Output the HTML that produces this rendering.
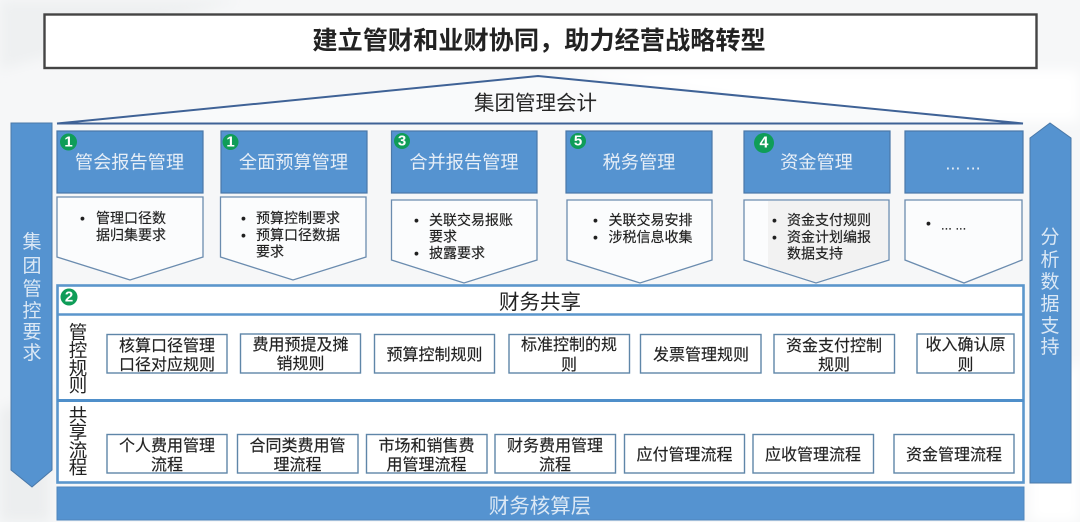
<!DOCTYPE html>
<html lang="zh-CN">
<head>
<meta charset="utf-8">
<title>建立管财和业财协同</title>
<style>
html,body{margin:0;padding:0;width:1080px;height:522px;overflow:hidden;background:#f6f7f8}
svg{display:block;font-family:"Liberation Sans","Noto Sans CJK SC",sans-serif;filter:blur(.35px)}
text{dominant-baseline:central;transform:translateY(1.5px)}
.b{fill:#5593d0;stroke:#4a78a8;stroke-width:1.2}
.c{fill:#fbfcfd;stroke:#6b8caf;stroke-width:1.3}
.r{fill:#fff;stroke:#5f86a8;stroke-width:1.4}
.h{fill:#e6eef7;font-size:18.2px;text-anchor:middle;transform:translateY(.5px)}
.l{fill:#1f1f1f;font-size:14px;stroke:#1f1f1f;stroke-width:.15;transform:translateY(.8px)}
.t{fill:#222;font-size:16px;text-anchor:middle;stroke:#222;stroke-width:.15}
.v{fill:#dbe8f5;font-size:19px;text-anchor:middle}
.k{fill:#222;font-size:18.500px;text-anchor:middle}
.n{fill:#fff;font-size:15px;font-weight:bold;text-anchor:middle}
.g{fill:#0f9d58}
</style>
</head>
<body>
<svg width="1080" height="522" viewBox="0 0 1080 522" xmlns="http://www.w3.org/2000/svg">
<defs><filter id="s" x="-20%" y="-20%" width="140%" height="140%"><feGaussianBlur stdDeviation="6"/></filter></defs>
<rect width="1080" height="522" fill="#f6f7f8"/>
<g filter="url(#s)">
<polygon points="0,0 240,0 0,70" fill="#eef0f1"/>
<polygon points="0,410 50,390 50,522 0,522" fill="#eceeef"/>
<polygon points="540,70 1080,70 1080,122 880,122" fill="#ffffff"/>
<polygon points="1030,400 1080,360 1080,522 1030,522" fill="#ffffff"/>
</g>

<!-- title -->
<rect x="44.500" y="14.500" width="992" height="53.500" fill="#fff" stroke="#444" stroke-width="2.400"/>
<text x="539" y="39.500" font-size="25.200" font-weight="bold" fill="#222" text-anchor="middle">建立管财和业财协同，助力经营战略转型</text>

<!-- roof -->
<polygon points="57,123.500 538,76 1023,123.500" fill="#f9fafb" stroke="#3f6296" stroke-width="2"/>
<text x="535.500" y="102" font-size="20.500" fill="#262626" text-anchor="middle">集团管理会计</text>

<!-- side arrows -->
<polygon points="11,123 52,123 52,470 32,487 11,470" fill="#5593d0" stroke="#4a78a8"/>
<text class="v" x="32" y="241">集</text>
<text class="v" x="32" y="265">团</text>
<text class="v" x="32" y="288">管</text>
<text class="v" x="32" y="310">控</text>
<text class="v" x="32" y="331">要</text>
<text class="v" x="32" y="352">求</text>
<polygon points="1030,138 1050,123 1071,138 1071,483 1030,483" fill="#5593d0" stroke="#4a78a8"/>
<text class="v" x="1050" y="236">分</text>
<text class="v" x="1050" y="259">析</text>
<text class="v" x="1050" y="281">数</text>
<text class="v" x="1050" y="303">据</text>
<text class="v" x="1050" y="325">支</text>
<text class="v" x="1050" y="346">持</text>

<!-- header boxes -->
<rect class="b" x="57" y="131" width="146" height="62"/>
<rect class="b" x="221" y="131" width="146" height="62"/>
<rect class="b" x="391.500" y="131" width="145.500" height="62"/>
<rect class="b" x="566" y="131" width="146" height="62"/>
<rect class="b" x="744" y="131" width="146" height="62"/>
<rect class="b" x="905" y="131" width="118" height="62"/>
<text class="h" x="129.500" y="162">管会报告管理</text>
<text class="h" x="293.500" y="162">全面预算管理</text>
<text class="h" x="464" y="162">合并报告管理</text>
<text class="h" x="639" y="162">税务管理</text>
<text class="h" x="816.500" y="162">资金管理</text>
<text class="h" x="963" y="163" style="font-family:'Liberation Sans',sans-serif">... ...</text>

<!-- badges -->
<circle class="g" cx="68.500" cy="142" r="8.500"/><text class="n" x="68.500" y="140.500">1</text>
<circle class="g" cx="230.500" cy="142" r="8"/><text class="n" x="230.500" y="140.500">1</text>
<circle class="g" cx="402" cy="141" r="8"/><text class="n" x="402" y="139.500">3</text>
<circle class="g" cx="578" cy="141" r="8"/><text class="n" x="578" y="139.500">5</text>
<circle class="g" cx="764" cy="143" r="10"/><text class="n" x="764" y="141.500" style="font-size:16px">4</text>

<!-- chevrons -->
<polygon class="c" points="57,197 203,197 203,257 130,280 57,257"/>
<polygon class="c" points="220.500,197 366,197 366,257 293,280 220.500,257"/>
<polygon class="c" points="391.500,200 537,200 537,260 464,283 391.500,260"/>
<polygon class="c" points="567,200 712,200 712,260 640,283 567,260"/>
<polygon class="c" points="744,200 889,200 889,260 816,283 744,260"/>
<polygon class="c" points="905,200 1022,200 1022,260 964,283 905,260"/>
<polygon points="768,201 888,201 888,259 816,282 768,267" fill="#f2f2f2"/>

<text class="l" x="80" y="217">•</text>
<text class="l" x="96" y="217">管理口径数</text>
<text class="l" x="96" y="234">据归集要求</text>

<text class="l" x="241" y="217">•</text>
<text class="l" x="256" y="217">预算控制要求</text>
<text class="l" x="241" y="234">•</text>
<text class="l" x="256" y="234">预算口径数据</text>
<text class="l" x="256" y="250.500">要求</text>

<text class="l" x="414" y="219">•</text>
<text class="l" x="429" y="219">关联交易报账</text>
<text class="l" x="429" y="235.500">要求</text>
<text class="l" x="414" y="252">•</text>
<text class="l" x="429" y="252">披露要求</text>

<text class="l" x="593" y="219">•</text>
<text class="l" x="608.500" y="219">关联交易安排</text>
<text class="l" x="593" y="236">•</text>
<text class="l" x="608.500" y="236">涉税信息收集</text>

<text class="l" x="772" y="219">•</text>
<text class="l" x="787" y="219">资金支付规则</text>
<text class="l" x="772" y="236">•</text>
<text class="l" x="787" y="236">资金计划编报</text>
<text class="l" x="787" y="252.500">数据支持</text>

<text class="l" x="926" y="222">•</text>
<text class="l" x="941" y="224" style="font-size:13px;font-family:'Liberation Sans',sans-serif">... ...</text>

<!-- shared block -->
<rect x="57.500" y="285.500" width="966" height="197" fill="#fff" stroke="#5b96cc" stroke-width="2.600"/>
<line x1="57" y1="314.500" x2="1024" y2="314.500" stroke="#5b96cc" stroke-width="2.400"/>
<line x1="57" y1="400.500" x2="1024" y2="400.500" stroke="#4f8fca" stroke-width="3"/>
<circle class="g" cx="69" cy="297" r="8.500"/><text class="n" x="69" y="295.500">2</text>
<text x="540" y="301" font-size="20.500" fill="#222" text-anchor="middle">财务共享</text>

<text class="k" x="78" y="331">管</text>
<text class="k" x="78" y="349">控</text>
<text class="k" x="78" y="367">规</text>
<text class="k" x="78" y="384">则</text>
<text class="k" x="78" y="414">共</text>
<text class="k" x="78" y="431">享</text>
<text class="k" x="78" y="449">流</text>
<text class="k" x="78" y="466">程</text>

<!-- rule boxes -->
<rect class="r" x="107" y="334.500" width="120" height="38.500"/>
<rect class="r" x="240.500" y="334" width="120" height="39"/>
<rect class="r" x="374.500" y="334.500" width="120" height="38.500"/>
<rect class="r" x="509" y="334.500" width="120.500" height="38.500"/>
<rect class="r" x="640.500" y="334.500" width="120.500" height="38.500"/>
<rect class="r" x="774" y="334.500" width="120.500" height="38.500"/>
<rect class="r" x="917" y="334" width="97" height="39"/>
<text class="t" x="167" y="345">核算口径管理</text>
<text class="t" x="167" y="364">口径对应规则</text>
<text class="t" x="300.500" y="344">费用预提及摊</text>
<text class="t" x="300.500" y="363">销规则</text>
<text class="t" x="434.500" y="354">预算控制规则</text>
<text class="t" x="569" y="344">标准控制的规</text>
<text class="t" x="569" y="364">则</text>
<text class="t" x="701" y="354">发票管理规则</text>
<text class="t" x="834" y="345">资金支付控制</text>
<text class="t" x="834" y="364">规则</text>
<text class="t" x="965.500" y="344">收入确认原</text>
<text class="t" x="965.500" y="364">则</text>

<!-- process boxes -->
<rect class="r" x="107" y="434.500" width="120" height="38.500"/>
<rect class="r" x="237.500" y="434.500" width="120.500" height="38.500"/>
<rect class="r" x="366.500" y="434.500" width="120.500" height="38.500"/>
<rect class="r" x="495" y="434.500" width="120.500" height="38.500"/>
<rect class="r" x="624.500" y="434.500" width="120" height="38.500"/>
<rect class="r" x="753" y="434.500" width="120.500" height="38.500"/>
<rect class="r" x="894" y="434.500" width="120" height="38.500"/>
<text class="t" x="167" y="445">个人费用管理</text>
<text class="t" x="167" y="464">流程</text>
<text class="t" x="297.500" y="445">合同类费用管</text>
<text class="t" x="297.500" y="464">理流程</text>
<text class="t" x="426.500" y="445">市场和销售费</text>
<text class="t" x="426.500" y="464">用管理流程</text>
<text class="t" x="555" y="445">财务费用管理</text>
<text class="t" x="555" y="464">流程</text>
<text class="t" x="684.500" y="454">应付管理流程</text>
<text class="t" x="813" y="454">应收管理流程</text>
<text class="t" x="954" y="454">资金管理流程</text>

<!-- bottom -->
<rect x="57" y="487" width="967" height="33" fill="#5593d0" stroke="#4f86bd"/>
<text x="540" y="505" font-size="20.500" fill="#dbe8f5" text-anchor="middle">财务核算层</text>
</svg>
</body>
</html>
